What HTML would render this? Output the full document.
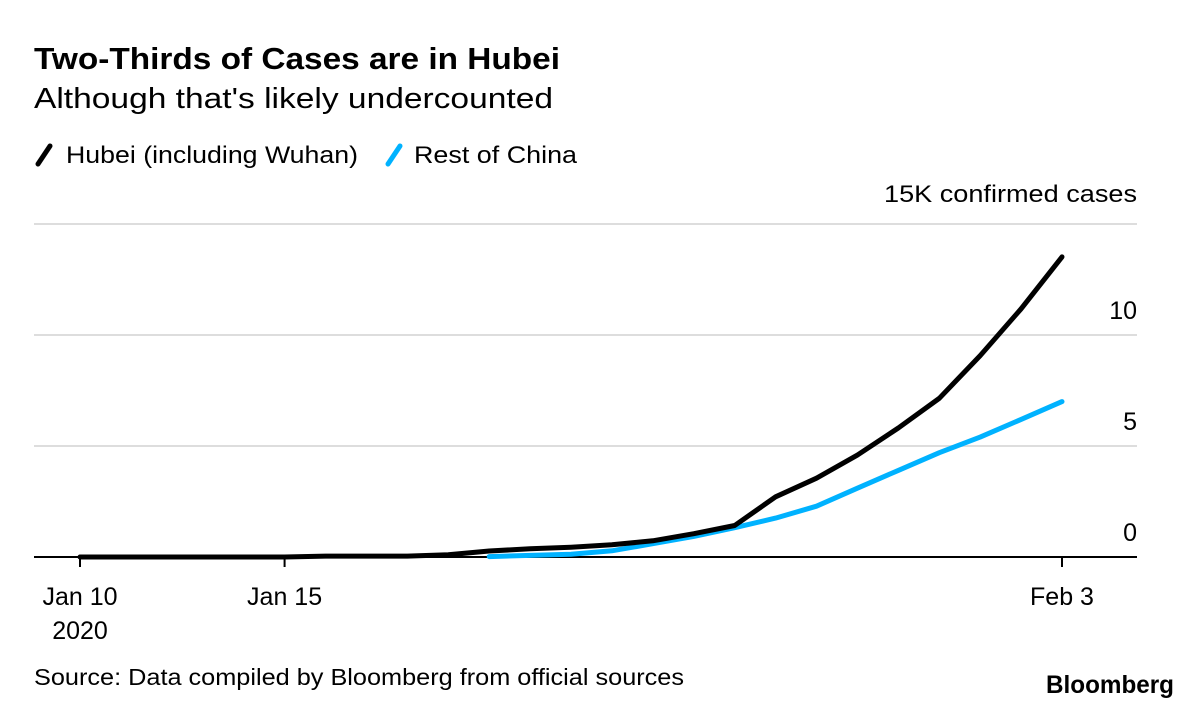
<!DOCTYPE html>
<html><head><meta charset="utf-8"><style>
body{margin:0;background:#fff;font-family:"Liberation Sans",sans-serif;}
svg{display:block}
</style></head><body>
<svg id="chart" width="1200" height="707">
<text x="34" y="69" font-size="31" font-weight="bold" fill="#000" textLength="526" lengthAdjust="spacingAndGlyphs">Two-Thirds of Cases are in Hubei</text>
<text x="34" y="108" font-size="29" fill="#000" textLength="519" lengthAdjust="spacingAndGlyphs">Although that's likely undercounted</text>
<g>
<line x1="38" y1="164" x2="50" y2="146" stroke="#000" stroke-width="5" stroke-linecap="round"/>
<text x="66" y="163" font-size="24" textLength="292" lengthAdjust="spacingAndGlyphs">Hubei (including Wuhan)</text>
<line x1="388" y1="164" x2="400" y2="146" stroke="#00b2ff" stroke-width="5" stroke-linecap="round"/>
<text x="414" y="163" font-size="24" textLength="163" lengthAdjust="spacingAndGlyphs">Rest of China</text>
</g>
<text x="1137" y="202" font-size="24" text-anchor="end" textLength="253" lengthAdjust="spacingAndGlyphs">15K confirmed cases</text>
<g id="grid"></g><g id="series"></g><g id="xaxis"></g>
<text x="34" y="685" font-size="23" textLength="650" lengthAdjust="spacingAndGlyphs">Source: Data compiled by Bloomberg from official sources</text>
<text x="1174" y="693" font-size="25" font-weight="bold" text-anchor="end" textLength="128" lengthAdjust="spacingAndGlyphs">Bloomberg</text>
</svg>
<script>
const hubei=[0,0,0,0,0,0,0.04,0.04,0.04,0.1,0.27,0.37,0.44,0.55,0.73,1.05,1.42,2.71,3.55,4.59,5.81,7.15,9.07,11.18,13.52];
const restChina=[null,null,null,null,null,null,null,null,null,null,0.02,0.07,0.12,0.28,0.6,0.93,1.32,1.75,2.29,3.1,3.9,4.7,5.4,6.2,7.0];
const yTicks=[0,5,10,15];
const yTickLabels=["0","5","10",""];
const xTickIdx=[0,5,24];
const xTickLabels=[["Jan 10","2020"],["Jan 15"],["Feb 3"]];
const NS="http://www.w3.org/2000/svg";
const x=i=>80+i*(1062-80)/24;
const y=v=>557-v*(557-224)/15;
const grid=document.getElementById('grid'),ser=document.getElementById('series'),xa=document.getElementById('xaxis');
yTicks.forEach((t,k)=>{
 const l=document.createElementNS(NS,'line');
 l.setAttribute('x1',34);l.setAttribute('x2',1137);l.setAttribute('y1',y(t));l.setAttribute('y2',y(t));
 l.setAttribute('stroke',t===0?'#000':'#ddd');l.setAttribute('stroke-width',2);
 
 
 grid.appendChild(l);
 if(yTickLabels[k]){const tx=document.createElementNS(NS,'text');
 tx.setAttribute('x',1137);tx.setAttribute('y',y(t)-16);tx.setAttribute('font-size',25);tx.setAttribute('text-anchor','end');
 tx.textContent=yTickLabels[k];
 
 
 grid.appendChild(tx);}
});
xTickIdx.forEach((i,k)=>{
 const l=document.createElementNS(NS,'line');
 l.setAttribute('x1',x(i));l.setAttribute('x2',x(i));l.setAttribute('y1',557);l.setAttribute('y2',567);l.setAttribute('stroke','#000');l.setAttribute('stroke-width',2);
 
 
 xa.appendChild(l);
 xTickLabels[k].forEach((s,j)=>{const tx=document.createElementNS(NS,'text');
 tx.setAttribute('x',x(i));tx.setAttribute('y',605+j*34);tx.setAttribute('font-size',25);tx.setAttribute('text-anchor','middle');tx.textContent=s;
 
 
 xa.appendChild(tx);});
});
function line(data,color,name){
 const pts=[];data.forEach((v,i)=>{if(v!==null)pts.push(x(i).toFixed(1)+','+y(v).toFixed(1));});
 const p=document.createElementNS(NS,'polyline');
 p.setAttribute('points',pts.join(' '));p.setAttribute('fill','none');p.setAttribute('stroke',color);p.setAttribute('stroke-width',5);p.setAttribute('stroke-linejoin','round');p.setAttribute('stroke-linecap','round');
 
 
 ser.appendChild(p);
}
line(restChina,'#00b2ff','rest-of-china-line');
line(hubei,'#000','hubei-line');
</script>
</body></html>
